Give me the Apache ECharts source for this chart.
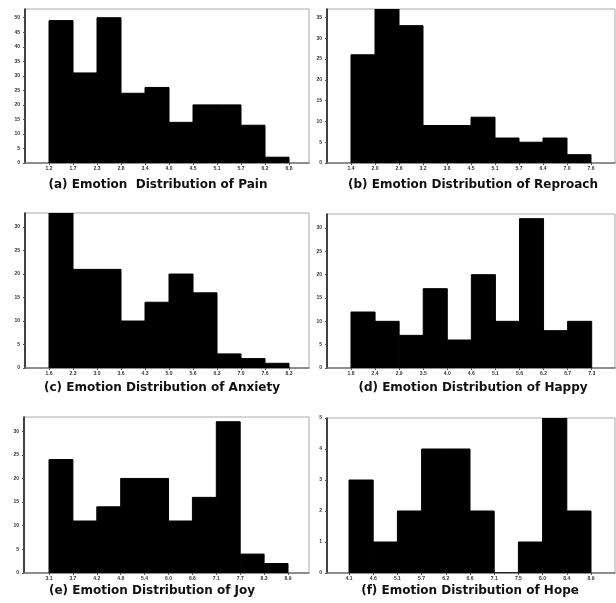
<!DOCTYPE html>
<html>
<head>
<meta charset="utf-8">
<style>
  html, body { margin: 0; padding: 0; background: #fff; }
  #chart { width: 616px; height: 603px; }
</style>
<script src="https://cdn.jsdelivr.net/npm/echarts@6/dist/echarts.min.js"></script>
</head>
<body>
<div id="chart"></div>
<script>
// bin edge labels and bin counts
var painEdges = ['1.2', '1.7', '2.3', '2.8', '3.4', '4.0', '4.5', '5.1', '5.7', '6.2', '6.8']
var painCounts = [49, 31, 50, 24, 26, 14, 20, 20, 13, 2]

var reproachEdges = ['1.4', '2.0', '2.6', '3.2', '3.8', '4.5', '5.1', '5.7', '6.4', '7.0', '7.6']
var reproachCounts = [26, 37, 33, 9, 9, 11, 6, 5, 6, 2]

var anxietyEdges = ['1.6', '2.3', '3.0', '3.6', '4.3', '5.0', '5.6', '6.3', '7.0', '7.6', '8.3']
var anxietyCounts = [33, 21, 21, 10, 14, 20, 16, 3, 2, 1]

var happyEdges = ['1.8', '2.4', '2.9', '3.5', '4.0', '4.6', '5.1', '5.6', '6.2', '6.7', '7.3']
var happyCounts = [12, 10, 7, 17, 6, 20, 10, 32, 8, 10]

var joyEdges = ['3.1', '3.7', '4.2', '4.8', '5.4', '6.0', '6.6', '7.1', '7.7', '8.3', '8.9']
var joyCounts = [24, 11, 14, 20, 20, 11, 16, 32, 4, 2]

var hopeEdges = ['4.1', '4.6', '5.1', '5.7', '6.2', '6.6', '7.1', '7.5', '8.0', '8.4', '8.9']
var hopeCounts = [3, 1, 2, 4, 4, 2, 0, 1, 5, 2]

var painTicks = [0, 5, 10, 15, 20, 25, 30, 35, 40, 45, 50]
var reproachTicks = [0, 5, 10, 15, 20, 25, 30, 35]
var anxietyTicks = [0, 5, 10, 15, 20, 25, 30]
var happyTicks = [0, 5, 10, 15, 20, 25, 30]
var joyTicks = [0, 5, 10, 15, 20, 25, 30]
var hopeTicks = [0, 1, 2, 3, 4, 5]

var titles = [
    '(a) Emotion  Distribution of Pain',
    '(b) Emotion Distribution of Reproach',
    '(c) Emotion Distribution of Anxiety',
    '(d) Emotion Distribution of Happy',
    '(e) Emotion Distribution of Joy',
    '(f) Emotion Distribution of Hope'
]

// panel boxes in pixels: axis left, frame right, top, bottom, first bin left, bin width
var panels = [
    { edges: painEdges, counts: painCounts, ticks: painTicks, ymax: 53, left: 25, right: 309, top: 9, bottom: 163, x0: 49, w: 24, tx: 158, ty: 185 },
    { edges: reproachEdges, counts: reproachCounts, ticks: reproachTicks, ymax: 37, left: 327, right: 615, top: 9, bottom: 163, x0: 351, w: 24, tx: 473, ty: 185 },
    { edges: anxietyEdges, counts: anxietyCounts, ticks: anxietyTicks, ymax: 33, left: 25, right: 309, top: 213, bottom: 368, x0: 49, w: 24, tx: 162, ty: 388 },
    { edges: happyEdges, counts: happyCounts, ticks: happyTicks, ymax: 33, left: 327, right: 615, top: 214, bottom: 368, x0: 351, w: 24.07, tx: 473, ty: 388 },
    { edges: joyEdges, counts: joyCounts, ticks: joyTicks, ymax: 33, left: 24, right: 309, top: 417, bottom: 573, x0: 49, w: 23.9, tx: 152, ty: 591 },
    { edges: hopeEdges, counts: hopeCounts, ticks: hopeTicks, ymax: 5, left: 327, right: 615, top: 418, bottom: 573, x0: 349, w: 24.2, tx: 470, ty: 591 }
]

var chart = echarts.init(document.getElementById('chart'))

function renderBin(params, api) {
    var i = api.value(0)
    var v = api.value(1)
    var p0 = api.coord([i, 0])
    var p1 = api.coord([i + 1, v])
    return {
        type: 'rect',
        shape: { x: p0[0], y: p1[1], width: p1[0] - p0[0], height: p0[1] - p1[1] },
        style: { fill: '#000', stroke: '#000', lineWidth: 1, lineJoin: 'miter' }
    }
}

var grids = [], xAxes = [], yAxes = [], series = [], graphics = []

panels.forEach(function (p, k) {
    grids.push({
        left: p.left,
        top: p.top,
        width: p.right - p.left,
        height: p.bottom - p.top,
        show: true,
        borderColor: '#aaa',
        borderWidth: 1,
        backgroundColor: 'transparent'
    })
    var edgeIdx = p.edges.map(function (e, i) { return i })
    xAxes.push({
        gridIndex: k,
        type: 'value',
        min: -(p.x0 - p.left) / p.w,
        max: (p.right - p.x0) / p.w,
        splitLine: { show: false },
        axisLine: { onZero: false, lineStyle: { color: '#777', width: 1.5 } },
        axisTick: { customValues: edgeIdx, length: 2, lineStyle: { color: '#555' } },
        axisLabel: {
            customValues: edgeIdx,
            fontSize: 5,
            fontWeight: 'bold',
            color: '#333',
            margin: 3,
            formatter: function (val) { return p.edges[Math.round(val)] }
        }
    })
    yAxes.push({
        gridIndex: k,
        type: 'value',
        min: 0,
        max: p.ymax,
        splitLine: { show: false },
        axisLine: { show: true, onZero: false, lineStyle: { color: '#111', width: 1.5 } },
        axisTick: { customValues: p.ticks, length: 2, lineStyle: { color: '#555' } },
        axisLabel: {
            customValues: p.ticks,
            fontSize: 5,
            fontWeight: 'bold',
            color: '#333',
            margin: 5
        }
    })
    series.push({
        type: 'custom',
        xAxisIndex: k,
        yAxisIndex: k,
        renderItem: renderBin,
        clip: true,
        encode: { x: 0, y: 1 },
        data: p.counts.map(function (c, i) { return [i, c] })
    })
    graphics.push({
        type: 'text',
        x: p.tx,
        y: p.ty,
        style: {
            text: titles[k],
            fontFamily: 'DejaVu Sans',
            fontSize: 12,
            fontWeight: 'bold',
            fill: '#111',
            textAlign: 'center',
            textVerticalAlign: 'middle'
        }
    })
})

chart.setOption({
    animation: false,
    grid: grids,
    xAxis: xAxes,
    yAxis: yAxes,
    series: series,
    graphic: graphics
})
</script>
</body>
</html>
